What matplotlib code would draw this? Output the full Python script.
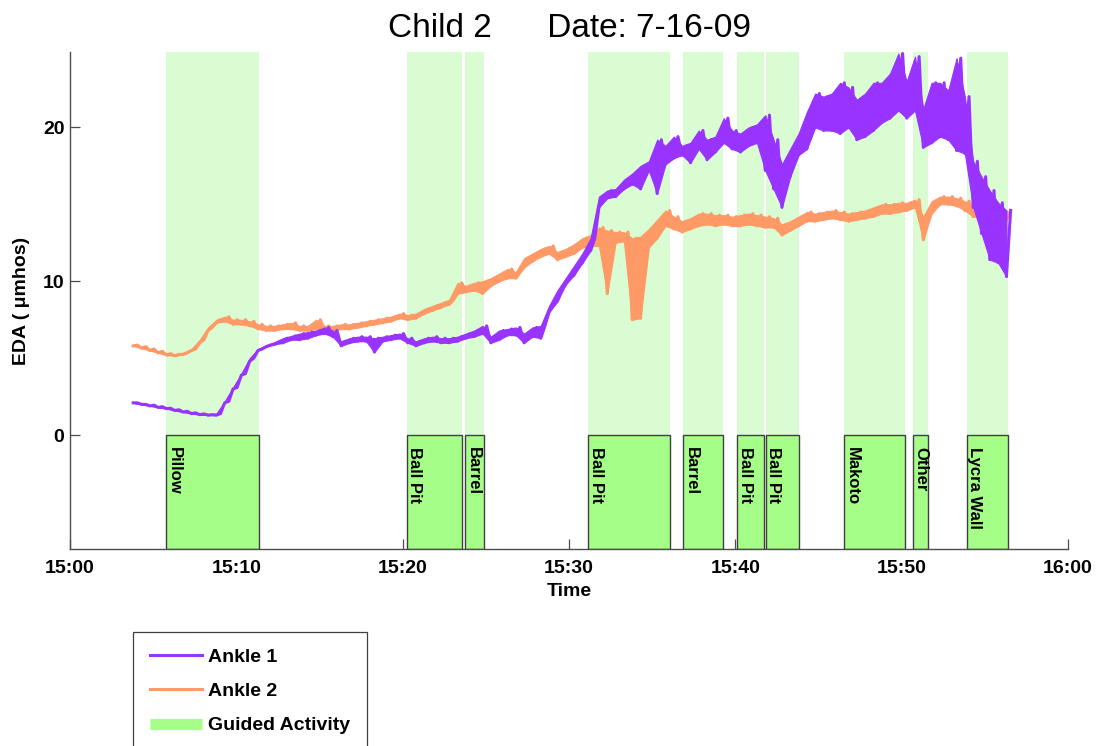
import numpy as np
import matplotlib
matplotlib.use('Agg')
import matplotlib.pyplot as plt
from matplotlib.lines import Line2D

plt.rcParams['font.family'] = ['Liberation Sans', 'DejaVu Sans']

# sample times, minutes after 15:00
t = np.arange(3.8, 56.31, 0.5)

# EDA band (lower / upper edge of the noisy trace)
ankle1_lo = [2.1, 2.0, 1.9, 1.8, 1.72, 1.6, 1.5, 1.4, 1.33, 1.3,
             1.3, 2.1, 3.0, 3.9, 4.8, 5.5, 5.75, 5.9, 6.0, 6.2,
             6.2, 6.3, 6.5, 6.6, 6.4, 5.8, 6.0, 6.1, 6.1, 5.4,
             6.1, 6.2, 6.3, 6.0, 5.8, 6.0, 6.1, 6.0, 6.0, 6.1,
             6.3, 6.4, 6.6, 6.0, 6.2, 6.5, 6.5, 6.0, 6.4, 6.3,
             8.0, 8.7, 9.8, 10.4, 11.2, 12.0, 14.8, 15.4, 15.5, 16.0,
             16.3, 16.0, 17.2, 15.7, 17.6, 18.0, 18.2, 17.7, 18.6, 17.9,
             18.4, 19.0, 18.6, 18.4, 18.8, 19.0, 17.2, 16.0, 14.8, 16.8,
             18.2, 18.6, 20.0, 19.8, 19.8, 19.6, 20.0, 19.2, 19.4, 19.8,
             20.3, 20.6, 21.1, 20.6, 21.1, 18.7, 19.0, 19.4, 19.2, 18.5,
             18.3, 14.8, 13.1, 11.4, 11.2, 10.3]
ankle1_hi = [2.1, 2.0, 1.95, 1.85, 1.75, 1.65, 1.55, 1.45, 1.38, 1.33,
             1.4, 2.2, 3.1, 4.0, 5.0, 5.6, 5.85, 6.05, 6.3, 6.45,
             6.6, 6.7, 6.8, 7.0, 6.8, 6.1, 6.3, 6.4, 6.4, 6.3,
             6.4, 6.5, 6.6, 6.3, 6.1, 6.3, 6.4, 6.3, 6.3, 6.4,
             6.6, 6.8, 7.1, 6.4, 6.8, 6.9, 7.0, 6.6, 7.0, 7.1,
             8.4, 9.4, 10.2, 11.0, 11.8, 12.8, 15.5, 15.9, 16.0, 16.6,
             17.0, 17.5, 17.8, 19.2, 18.8, 19.4, 18.8, 19.0, 19.8, 19.2,
             19.4, 20.6, 19.8, 19.6, 20.0, 20.2, 20.8, 19.2, 17.6, 18.6,
             19.6, 21.0, 22.2, 22.0, 22.2, 22.9, 22.6, 21.8, 22.2, 22.9,
             22.9, 23.5, 24.8, 23.0, 24.6, 21.2, 22.9, 22.9, 22.4, 24.5,
             22.0, 17.8, 16.8, 15.9, 15.1, 14.6]
ankle2_lo = [5.8, 5.65, 5.5, 5.35, 5.2, 5.15, 5.25, 5.5, 6.0, 6.8,
             7.3, 7.4, 7.2, 7.2, 7.1, 6.9, 6.8, 6.8, 6.9, 6.9,
             6.8, 6.8, 6.9, 6.8, 6.8, 6.9, 6.9, 7.0, 7.1, 7.2,
             7.3, 7.4, 7.6, 7.5, 7.6, 7.9, 8.1, 8.3, 8.5, 9.2,
             9.3, 9.4, 9.2, 9.7, 10.0, 10.2, 10.2, 10.9, 11.3, 11.6,
             11.8, 11.4, 11.6, 11.8, 12.2, 12.3, 12.3, 9.2, 12.5, 12.6,
             7.5, 7.6, 12.2, 12.8, 13.6, 13.4, 13.2, 13.4, 13.6, 13.7,
             13.6, 13.7, 13.6, 13.6, 13.7, 13.6, 13.5, 13.5, 13.0, 13.3,
             13.6, 13.9, 13.9, 14.0, 14.1, 14.0, 13.9, 14.0, 14.1, 14.2,
             14.4, 14.4, 14.5, 14.6, 14.8, 12.7, 14.4, 15.0, 15.0, 14.9,
             14.6, 14.2, 14.2, 14.3, 14.0, 14.0]
ankle2_hi = [5.85, 5.75, 5.6, 5.45, 5.3, 5.25, 5.35, 5.6, 6.2, 7.0,
             7.5, 7.7, 7.5, 7.5, 7.4, 7.2, 7.1, 7.1, 7.2, 7.3,
             7.1, 7.1, 7.5, 7.1, 7.1, 7.2, 7.2, 7.3, 7.4, 7.5,
             7.6, 7.7, 7.9, 7.8, 7.9, 8.2, 8.4, 8.6, 8.8, 9.9,
             9.7, 9.9, 10.0, 10.2, 10.5, 10.8, 10.6, 11.5, 11.8, 12.1,
             12.3, 11.9, 12.1, 12.4, 12.8, 13.0, 13.5, 13.3, 13.2, 13.2,
             12.8, 12.9, 13.4, 14.0, 14.6, 14.2, 13.9, 14.1, 14.4, 14.4,
             14.3, 14.3, 14.2, 14.3, 14.4, 14.3, 14.2, 14.1, 13.7, 13.9,
             14.2, 14.5, 14.4, 14.5, 14.6, 14.5, 14.4, 14.5, 14.6, 14.8,
             15.0, 15.0, 15.1, 15.1, 15.3, 14.2, 15.2, 15.5, 15.5, 15.4,
             15.2, 14.9, 14.8, 15.1, 14.8, 14.6]

# guided activities (minutes after 15:00)
act_names = ['Pillow', 'Ball Pit', 'Barrel', 'Ball Pit', 'Barrel',
             'Ball Pit', 'Ball Pit', 'Makoto', 'Other', 'Lycra Wall']
act_start = [5.77, 20.24, 23.77, 31.17, 36.85, 40.12, 41.83, 46.55, 50.68, 53.91]
act_end = [11.38, 23.59, 24.91, 36.07, 39.24, 41.72, 43.81, 50.22, 51.58, 56.39]

tick_min = [0, 10, 20, 30, 40, 50, 60]
tick_lbl = ['15:00', '15:10', '15:20', '15:30', '15:40', '15:50', '16:00']

purple = '#9933FF'
orange = '#FF9966'
light_green = '#DAFCD3'
green = '#A4FE88'

ylo, yhi = -7.4, 24.9


def draw_trace(ax, lo, hi, color, z):
    # solid band between the edges, plus a stroke per sample for the jagged look
    ax.fill_between(t, lo, hi, color=color, lw=0.8, edgecolor=color, zorder=z)
    x = np.column_stack([t, t + 0.25]).ravel()
    y = np.column_stack([lo, hi]).ravel()
    ax.plot(x, y, color=color, lw=2.2, zorder=z)


fig = plt.figure(figsize=(10.98, 7.46), dpi=100)
ax = fig.add_axes([70 / 1098, 1 - 549 / 746, 998 / 1098, 497 / 746])
ax.set_axisbelow(True)

widths = [e - s for s, e in zip(act_start, act_end)]
ax.bar(act_start, yhi, width=widths, bottom=0, align='edge',
       color=light_green, linewidth=0, zorder=0.6)
ax.bar(act_start, -ylo, width=widths, bottom=ylo, align='edge',
       color=green, edgecolor='0.25', linewidth=1.0, zorder=1)
for name, s in zip(act_names, act_start):
    ax.text(s + 0.03, -0.75, name, rotation=-90, ha='left', va='top',
            fontsize=12, fontweight='bold', zorder=3)

draw_trace(ax, ankle2_lo, ankle2_hi, orange, 2)
draw_trace(ax, ankle1_lo, ankle1_hi, purple, 2.1)

ax.set_xlim(0, 60)
ax.set_ylim(ylo, yhi)
ax.set_xticks(tick_min)
ax.set_xticklabels(tick_lbl)
ax.set_yticks([0, 10, 20])
for sp in ['top', 'right']:
    ax.spines[sp].set_visible(False)
for sp in ['left', 'bottom']:
    ax.spines[sp].set_color('0.3')
    ax.spines[sp].set_linewidth(1.0)
ax.tick_params(direction='in', length=7, width=0.9, color='0.3',
               labelsize=14)
ax.tick_params(axis='x', pad=8)
ax.tick_params(axis='y', pad=4)
for lab in ax.get_xticklabels() + ax.get_yticklabels():
    lab.set_fontweight('bold')

ax.set_xlabel('Time', fontsize=14, fontweight='bold', labelpad=4)
ax.set_ylabel('EDA ( \u03bcmhos)', fontsize=14, fontweight='bold')
ax.yaxis.set_label_coords(-0.040, 0.5)
ax.set_title('Child 2      Date: 7-16-09', fontsize=24, pad=11)

handles = [Line2D([], [], color=purple, lw=2.2),
           Line2D([], [], color=orange, lw=2.2),
           Line2D([], [], color=green, lw=8, solid_capstyle='butt')]
leg = fig.legend(handles, ['Ankle 1', 'Ankle 2', 'Guided Activity'],
                 loc='upper left', bbox_to_anchor=(133 / 1098, 1 - 632 / 746),
                 bbox_transform=fig.transFigure, borderaxespad=0,
                 fancybox=False, framealpha=1, edgecolor='0.25',
                 prop={'size': 14, 'weight': 'bold'},
                 handlelength=2.7, handletextpad=0.3,
                 labelspacing=0.85, borderpad=0.85)
leg.get_frame().set_linewidth(0.9)

fig.savefig('out.png', dpi=100)
